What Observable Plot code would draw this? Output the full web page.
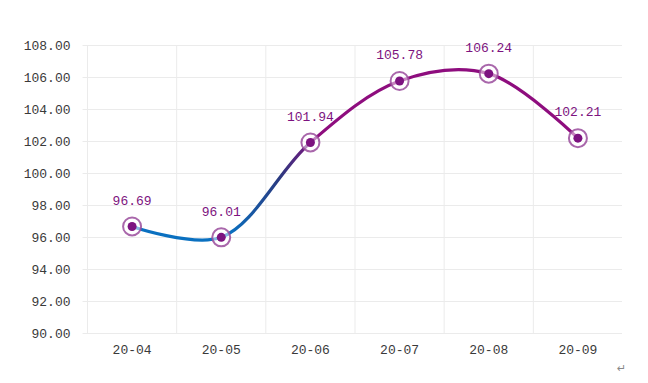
<!DOCTYPE html>
<html>
<head>
<meta charset="utf-8">
<script src="https://cdn.jsdelivr.net/npm/d3@7"></script>
<script src="https://cdn.jsdelivr.net/npm/@observablehq/plot@0.6"></script>
<style>
  html, body { margin: 0; padding: 0; background: #fff; }
  #wrap { position: relative; width: 648px; height: 383px; }
  #mark { position: absolute; left: 617px; top: 362px; font: 11px "DejaVu Sans"; color: #888; }
</style>
</head>
<body>
<div id="wrap"><div id="chart"></div><div id="mark">↵</div></div>
<script>
const months = ["20-04", "20-05", "20-06", "20-07", "20-08", "20-09"];
const values = [96.69, 96.01, 101.94, 105.78, 106.24, 102.21];
const yTicks = [90, 92, 94, 96, 98, 100, 102, 104, 106, 108];

const data = months.map((m, i) => ({i, m, v: values[i]}));
const bounds = d3.range(-0.5, months.length - 1, 1);
const purple = "#7d1380";
const font = "'Liberation Mono', 'DejaVu Sans Mono', monospace";

const plot = Plot.plot({
  width: 648,
  height: 383,
  marginLeft: 87,
  marginRight: 26,
  marginTop: 45,
  marginBottom: 50,
  style: {fontFamily: font, fontSize: "13px", color: "#3a3a3a", background: "#fff"},
  x: {type: "linear", domain: [-0.5, months.length - 0.5], ticks: d3.range(months.length),
      tickFormat: i => months[i], tickSize: 0, tickPadding: 11, label: null},
  y: {domain: [90, 108], ticks: yTicks, tickFormat: d => d.toFixed(2), tickSize: 0, tickPadding: 17, label: null},
  marks: [
    Plot.ruleY(yTicks, {stroke: "#ebebeb", strokeWidth: 1, x1: -0.55, x2: months.length - 0.5}),
    Plot.ruleX(bounds, {stroke: "#ebebeb", strokeWidth: 1}),
    Plot.line(data, {x: "i", y: "v", curve: "catmull-rom", stroke: "url(#lineGrad)", strokeWidth: 3.2}),
    Plot.dot(data, {x: "i", y: "v", r: 9, stroke: "#9a4c9c", strokeOpacity: 0.85, strokeWidth: 2, fill: "#fff", fillOpacity: 0.5}),
    Plot.dot(data, {x: "i", y: "v", r: 4.5, fill: purple}),
    Plot.text(data, {x: "i", y: "v", text: d => d.v.toFixed(2), dy: -26, fill: purple, fontSize: 13})
  ]
});

const xs = plot.scale("x");
const x1 = xs.apply(1.1), x2 = xs.apply(2.1);
const svg = d3.select(plot);
const defs = svg.insert("defs", ":first-child");
const g = defs.append("linearGradient").attr("id", "lineGrad")
  .attr("gradientUnits", "userSpaceOnUse")
  .attr("x1", x1).attr("x2", x2).attr("y1", 0).attr("y2", 0);
g.append("stop").attr("offset", "0%").attr("stop-color", "#0a70c0");
g.append("stop").attr("offset", "55%").attr("stop-color", "#2a3a80");
g.append("stop").attr("offset", "100%").attr("stop-color", "#8e0d7e");

document.getElementById("chart").appendChild(plot);
</script>
</body>
</html>
